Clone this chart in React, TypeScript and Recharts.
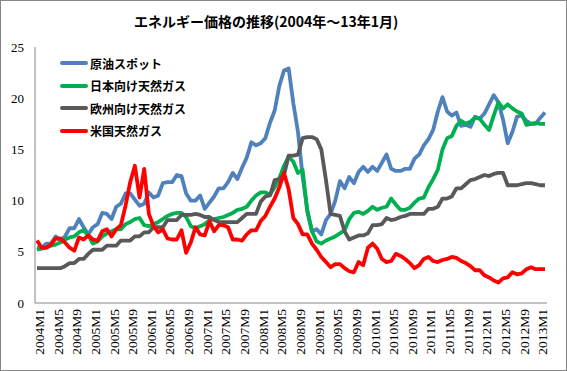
import { LineChart, Line, XAxis, YAxis } from "recharts"

// monthly categories 2004M1 .. 2013M2
const years = [2004, 2005, 2006, 2007, 2008, 2009, 2010, 2011, 2012, 2013]
const months = years.flatMap(y =>
  (y === 2013 ? [1, 2] : [1, 2, 3, 4, 5, 6, 7, 8, 9, 10, 11, 12]).map(m => `${y}M${m}`)
)

const yTicks = [0, 5, 10, 15, 20, 25]

// 原油スポット
const crude = [
  5.4, 5.4, 5.8, 5.8, 6.5, 6.1, 6.5, 7.3, 7.3, 8.2, 7.4, 6.7,
  7.4, 7.7, 8.8, 8.7, 8.2, 9.4, 9.7, 10.7, 10.7, 10.1, 9.5, 9.7,
  10.8, 10.3, 10.5, 11.7, 11.8, 11.8, 12.5, 12.4, 10.7, 10.0, 10.0, 10.5,
  9.2, 9.8, 10.4, 11.2, 11.2, 11.8, 12.7, 12.1, 13.2, 14.2, 15.7, 15.4,
  15.6, 16.1, 17.6, 18.8, 21.2, 22.7, 22.9, 19.5, 16.7, 12.3, 9.1, 7.0,
  7.2, 6.7, 8.1, 8.7, 10.0, 11.9, 11.2, 12.3, 11.7, 12.8, 13.3, 12.8,
  13.3, 12.9, 13.7, 14.5, 13.1, 12.9, 12.9, 13.1, 13.1, 14.1, 14.5, 15.4,
  16.0, 16.9, 18.7, 20.1, 18.7, 18.3, 18.6, 17.3, 17.4, 17.2, 18.2, 18.0,
  18.5, 19.4, 20.3, 19.6, 17.9, 15.6, 16.7, 18.2, 18.3, 17.8, 17.5, 17.5,
  18.1, 18.6,
]

// 日本向け天然ガス
const japanGas = [
  5.2, 5.3, 5.4, 5.6, 5.7, 5.9, 6.2, 6.4, 6.5, 6.9, 7.1, 6.6,
  5.8, 6.0, 6.5, 6.8, 7.0, 7.2, 7.2, 7.7, 7.9, 8.2, 8.3, 7.6,
  7.5, 7.7, 7.9, 8.2, 8.5, 8.7, 8.8, 8.8, 8.4, 7.5, 7.3, 7.5,
  7.7, 8.1, 8.2, 8.3, 8.4, 8.6, 8.8, 9.1, 9.2, 9.4, 10.0, 10.5,
  10.8, 10.8, 10.6, 11.3, 12.2, 13.4, 14.3, 13.8, 12.7, 13.0, 8.9, 7.0,
  6.0, 5.8, 6.1, 6.3, 6.5, 6.8, 7.1, 8.2, 8.8, 8.9, 8.7, 9.0,
  9.4, 9.1, 9.3, 9.4, 10.2, 9.6, 9.1, 9.1, 9.3, 9.8, 10.2, 10.3,
  11.3, 12.1, 13.0, 15.0, 16.1, 16.3, 17.3, 17.8, 17.5, 17.7, 18.1, 18.0,
  17.4, 16.9, 18.3, 19.6, 19.0, 19.4, 19.0, 18.7, 18.5, 17.4, 17.5, 17.6,
  17.5, 17.5,
]

// 欧州向け天然ガス
const europeGas = [
  3.4, 3.4, 3.4, 3.4, 3.4, 3.4, 3.6, 3.9, 3.9, 4.3, 4.3, 4.8,
  5.2, 5.2, 5.2, 5.6, 5.6, 5.6, 6.1, 6.1, 6.1, 6.5, 6.5, 6.9,
  6.9, 7.4, 7.4, 7.4, 8.1, 8.1, 8.1, 8.6, 8.6, 8.6, 8.7, 8.6,
  8.4, 8.4, 8.1, 7.9, 7.9, 7.9, 7.9, 7.9, 8.3, 8.7, 8.7, 8.7,
  9.9, 10.4, 10.5, 12.0, 12.1, 12.5, 14.4, 14.4, 14.5, 16.1, 16.2, 16.2,
  16.0, 15.0, 12.0, 8.7, 8.6, 8.5, 7.0, 6.2, 6.4, 6.6, 6.6, 6.8,
  7.6, 7.6, 7.7, 8.3, 8.1, 8.2, 8.4, 8.5, 8.7, 8.7, 8.7, 8.7,
  9.2, 9.2, 9.4, 10.2, 10.2, 10.4, 11.2, 11.2, 11.6, 12.0, 12.1, 12.3,
  12.5, 12.4, 12.6, 12.7, 12.7, 11.5, 11.5, 11.5, 11.6, 11.7, 11.7, 11.6,
  11.5, 11.5,
]

// 米国天然ガス
const usGas = [
  6.1, 5.4, 5.4, 5.7, 6.3, 6.3, 5.9, 5.4, 5.1, 6.4, 6.2, 6.6,
  6.2, 6.1, 7.0, 7.2, 6.5, 7.2, 7.6, 9.5, 11.8, 13.4, 10.3, 13.1,
  8.7, 7.5, 6.9, 7.2, 6.3, 6.2, 6.2, 7.1, 4.9, 5.9, 7.4, 6.7,
  6.6, 8.0, 7.0, 7.6, 7.6, 7.4, 6.2, 6.2, 6.1, 6.7, 7.1, 7.1,
  8.0, 8.5, 9.4, 10.2, 11.3, 12.7, 11.1, 8.3, 7.7, 6.7, 6.7, 5.8,
  5.2, 4.5, 4.0, 3.5, 3.8, 3.8, 3.4, 3.1, 3.0, 4.0, 3.7, 5.4,
  5.8, 5.3, 4.3, 4.0, 4.1, 4.8, 4.6, 4.3, 3.9, 3.4, 3.7, 4.3,
  4.5, 4.1, 4.0, 4.2, 4.3, 4.5, 4.4, 4.1, 3.9, 3.6, 3.2, 3.2,
  2.7, 2.5, 2.2, 2.0, 2.4, 2.5, 3.0, 2.8, 2.9, 3.3, 3.5, 3.3,
  3.3, 3.3,
]

const series = [
  { key: "crude", name: "原油スポット", color: "#4F81BD" },
  { key: "japan", name: "日本向け天然ガス", color: "#00B050" },
  { key: "europe", name: "欧州向け天然ガス", color: "#595959" },
  { key: "us", name: "米国天然ガス", color: "#FF0000" },
]

const data = months.map((m, i) => ({
  month: m,
  crude: crude[i],
  japan: japanGas[i],
  europe: europeGas[i],
  us: usGas[i],
}))

const tickFont = "'Liberation Serif', 'DejaVu Serif', serif"
const jpFont = "'Noto Sans CJK JP', sans-serif"

function MonthTick({ x, y, payload }: any) {
  return (
    <g transform={`translate(${x},${y})`}>
      <text transform="rotate(-90)" textAnchor="end" dy={7} fontSize={13.5} fontFamily={tickFont} fill="#000">
        {payload.value}
      </text>
    </g>
  )
}

export default function App() {
  return (
    <div style={{ position: "absolute", left: 0, top: 0, width: 567, height: 371, background: "#fff" }}>
      <LineChart width={567} height={371} data={data} margin={{ top: 47, right: 20, bottom: 8, left: 0 }}>
        <XAxis
          dataKey="month"
          scale="point"
          interval={3}
          tick={<MonthTick />}
          tickLine={false}
          tickSize={6}
          tickMargin={0}
          height={60}
          padding={{ left: 2, right: 2 }}
          axisLine={{ stroke: "#868686" }}
        />
        <YAxis
          domain={[0, 25]}
          ticks={yTicks}
          width={35}
          tickLine={false}
          tickSize={0}
          tickMargin={11}
          axisLine={{ stroke: "#868686" }}
          tick={{ fontSize: 13, fontFamily: tickFont, fill: "#000" }}
        />
        {series.map(s => (
          <Line
            key={s.key}
            type="linear"
            dataKey={s.key}
            name={s.name}
            stroke={s.color}
            strokeWidth={3.8}
            strokeLinejoin="round"
            dot={false}
            isAnimationActive={false}
          />
        ))}
      </LineChart>

      <div
        style={{
          position: "absolute", left: 134, top: 12, fontFamily: jpFont, fontWeight: 700,
          fontSize: 14, lineHeight: "18px", color: "#000", whiteSpace: "nowrap",
        }}
      >
        エネルギー価格の推移(2004年～13年1月)
      </div>

      <div style={{ position: "absolute", left: 60, top: 52 }}>
        {series.map(s => (
          <div key={s.key} style={{ display: "flex", alignItems: "center", height: 22.5 }}>
            <div style={{ width: 28, height: 4, borderRadius: 2, background: s.color, marginRight: 2 }} />
            <span style={{ fontFamily: jpFont, fontWeight: 700, fontSize: 12, color: "#000", whiteSpace: "nowrap" }}>
              {s.name}
            </span>
          </div>
        ))}
      </div>

      <div
        style={{
          position: "absolute", left: 0, top: 0, width: 567, height: 371, boxSizing: "border-box",
          border: "1px solid #868686", pointerEvents: "none",
        }}
      />
    </div>
  )
}
